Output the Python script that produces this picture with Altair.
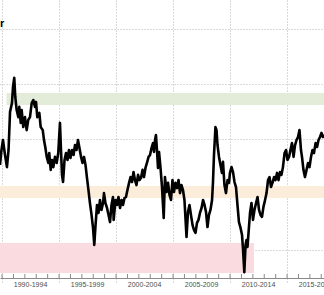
import altair as alt
import pandas as pd

# ---- data (arbitrary index units) ----
years = [1989.82, 1989.95, 1990.08, 1990.26, 1990.43, 1990.57, 1990.70, 1990.87, 1990.96, 1991.07,
         1991.16, 1991.28, 1991.43, 1991.51, 1991.64, 1991.72, 1991.86, 1992.01, 1992.16, 1992.30,
         1992.45, 1992.60, 1992.74, 1992.89, 1992.98, 1993.09, 1993.27, 1993.39, 1993.57, 1993.68,
         1993.79, 1993.92, 1994.06, 1994.14, 1994.27, 1994.38, 1994.50, 1994.64, 1994.79, 1994.93,
         1995.08, 1995.17, 1995.26, 1995.35, 1995.48, 1995.61, 1995.74, 1995.87, 1996.00, 1996.14,
         1996.27, 1996.40, 1996.53, 1996.66, 1996.79, 1996.93, 1997.06, 1997.19, 1997.32, 1997.45,
         1997.58, 1997.71, 1997.85, 1997.98, 1998.09, 1998.20, 1998.33, 1998.46, 1998.59, 1998.72,
         1998.86, 1998.94, 1999.07, 1999.21, 1999.34, 1999.47, 1999.60, 1999.73, 1999.79, 1999.95,
         2000.08, 2000.21, 2000.35, 2000.48, 2000.61, 2000.74, 2000.87, 2001.00, 2001.14, 2001.27,
         2001.40, 2001.53, 2001.66, 2001.79, 2001.93, 2002.06, 2002.19, 2002.32, 2002.45, 2002.58,
         2002.71, 2002.85, 2002.98, 2003.11, 2003.24, 2003.33, 2003.42, 2003.50, 2003.59, 2003.68,
         2003.77, 2003.90, 2004.03, 2004.18, 2004.29, 2004.43, 2004.56, 2004.69, 2004.82, 2004.95,
         2005.08, 2005.21, 2005.35, 2005.48, 2005.61, 2005.74, 2005.87, 2006.00, 2006.18, 2006.31,
         2006.44, 2006.57, 2006.71, 2006.84, 2006.97, 2007.10, 2007.23, 2007.36, 2007.50, 2007.63,
         2007.76, 2007.89, 2008.02, 2008.15, 2008.28, 2008.42, 2008.50, 2008.59, 2008.72, 2008.81,
         2008.90, 2009.03, 2009.16, 2009.29, 2009.38, 2009.51, 2009.64, 2009.78, 2009.91, 2009.99,
         2010.13, 2010.26, 2010.39, 2010.52, 2010.65, 2010.78, 2010.92, 2011.05, 2011.14, 2011.25,
         2011.36, 2011.44, 2011.53, 2011.62, 2011.75, 2011.88, 2012.01, 2012.14, 2012.28, 2012.41,
         2012.54, 2012.67, 2012.80, 2012.93, 2013.07, 2013.20, 2013.33, 2013.46, 2013.59, 2013.72,
         2013.86, 2013.99, 2014.12, 2014.25, 2014.38, 2014.51, 2014.64, 2014.78, 2014.91, 2015.04,
         2015.17, 2015.30, 2015.43, 2015.57, 2015.70, 2015.83, 2015.96, 2016.09, 2016.22, 2016.31,
         2016.44, 2016.57, 2016.71, 2016.84, 2016.97, 2017.10, 2017.23, 2017.36, 2017.50, 2017.63,
         2017.76, 2017.89, 2018.02, 2018.15, 2018.28]

values = [110.8, 116.2, 119.8, 114.4, 110.0, 116.2, 130.0, 133.2, 139.0, 142.3,
          135.4, 130.7, 128.1, 131.8, 126.0, 130.7, 124.5, 128.1, 123.4, 127.1,
          128.1, 133.2, 134.3, 131.8, 133.6, 128.1, 129.6, 124.5, 123.4, 119.8,
          117.3, 113.7, 111.5, 115.1, 109.0, 112.6, 110.0, 113.7, 111.5, 115.1,
          126.0, 116.2, 107.2, 104.6, 112.6, 115.1, 112.6, 116.2, 113.3, 116.2,
          114.4, 118.0, 116.2, 119.8, 116.9, 113.7, 111.5, 113.7, 110.8, 106.1,
          101.7, 97.0, 92.7, 88.0, 81.8, 89.0, 96.3, 93.4, 98.1, 94.5,
          97.0, 100.6, 97.0, 95.2, 92.7, 90.1, 96.3, 99.2, 90.9, 98.1,
          96.3, 99.2, 95.2, 98.1, 96.3, 98.8, 99.2, 101.7, 104.3, 106.4,
          104.6, 108.2, 105.3, 103.5, 107.2, 105.3, 106.1, 109.0, 106.4, 109.7,
          111.5, 113.7, 114.4, 116.9, 118.7, 115.5, 119.8, 121.6, 116.2, 109.7,
          115.5, 109.7, 102.8, 91.6, 106.4, 101.0, 104.3, 99.9, 98.1, 105.3,
          101.0, 104.3, 102.4, 105.3, 100.6, 103.5, 101.7, 98.1, 84.7, 93.8,
          96.3, 92.7, 89.0, 87.2, 86.2, 89.8, 90.9, 93.4, 95.2, 98.1,
          96.3, 93.8, 88.3, 92.7, 94.5, 98.1, 104.3, 114.4, 124.5, 123.4,
          118.0, 113.7, 110.8, 107.9, 111.9, 103.5, 100.6, 105.3, 104.3, 107.9,
          110.0, 108.2, 104.6, 102.8, 96.3, 90.1, 88.0, 85.4, 80.0, 72.0,
          81.8, 83.6, 81.1, 86.2, 93.4, 97.0, 90.9, 94.5, 97.0, 99.2,
          94.5, 92.7, 92.0, 95.6, 98.1, 100.6, 105.3, 106.4, 102.8, 104.3,
          106.4, 105.3, 107.9, 105.3, 108.2, 107.2, 110.0, 115.1, 116.2, 112.6,
          113.7, 116.2, 118.7, 113.7, 118.0, 119.8, 120.9, 123.4, 116.2, 113.7,
          109.0, 106.4, 109.0, 111.5, 110.0, 113.7, 116.2, 115.1, 118.7, 117.3,
          119.8, 120.9, 122.4, 120.9, 121.6]

# shaded zones
band_start = [1990.39, 1989.82, 1989.82]
band_end = [2018.30, 2018.30, 2012.10]
band_low = [132.5, 98.8, 71.7]
band_high = [136.8, 103.2, 82.5]
band_color = ["#e3ecd9", "#fcedda", "#fadbe0"]

# axis labels (5-year buckets)
period_labels = ["1990-1994", "1995-1999", "2000-2004", "2005-2009", "2010-2014", "2015-2019"]
period_centers = [1992.5, 1997.5, 2002.5, 2007.5, 2012.5, 2017.5]
major_years = [1990, 1995, 2000, 2005, 2010, 2015]
minor_years = list(range(1990, 2019))
grid_values = [80, 100, 120, 140, 160]

line_df = pd.DataFrame({"year": years, "value": values})
band_df = pd.DataFrame({"x1": band_start, "x2": band_end, "y1": band_low, "y2": band_high, "c": band_color})
lab_df = pd.DataFrame({"year": period_centers, "label": period_labels})
minor_df = pd.DataFrame({"year": minor_years})

W, H = 324, 278
xscale = alt.Scale(domain=[1989.82, 2018.24], nice=False, zero=False)
yscale = alt.Scale(domain=[69.86, 170.5], nice=False, zero=False)
xaxis = alt.Axis(values=major_years, grid=True, gridDash=[1, 2], gridColor="#b5b5b5",
                 labels=False, ticks=True, tickDash=[1, 2], tickColor="#b5b5b5", tickSize=4,
                 domain=True, domainColor="#8a8a8a", domainWidth=1, title=None)
yaxis = alt.Axis(values=grid_values, grid=True, gridDash=[1, 2], gridColor="#b5b5b5",
                 labels=False, ticks=False, domain=False, title=None)

bands = alt.Chart(band_df).mark_rect(clip=True).encode(
    x=alt.X("x1:Q", scale=xscale, axis=xaxis),
    x2="x2:Q",
    y=alt.Y("y1:Q", scale=yscale, axis=yaxis),
    y2="y2:Q",
    color=alt.Color("c:N", scale=None),
)

line = alt.Chart(line_df).mark_line(color="black", strokeWidth=2.6, clip=True, strokeJoin="round").encode(
    x=alt.X("year:Q", scale=xscale, axis=xaxis),
    y=alt.Y("value:Q", scale=yscale, axis=yaxis),
)

minor = alt.Chart(minor_df).mark_rule(color="#8a8a8a", strokeWidth=1).encode(
    x=alt.X("year:Q", scale=xscale, axis=xaxis),
    y=alt.value(274),
    y2=alt.value(278),
)

labels = alt.Chart(lab_df).mark_text(fontSize=7, font="Liberation Sans", color="#4d4d4d",
                                     baseline="middle", align="center").encode(
    x=alt.X("year:Q", scale=xscale, axis=xaxis),
    y=alt.value(285),
    text="label:N",
)

title = alt.Chart(pd.DataFrame({"t": ["r"]})).mark_text(
    fontSize=11, fontWeight="bold", font="Liberation Sans", color="black",
    align="left", baseline="alphabetic").encode(
    x=alt.value(0), y=alt.value(27), text="t:N")

chart = alt.layer(bands, line, minor, labels, title).properties(
    width=W, height=H,
    padding={"left": 0, "top": 0, "right": 0, "bottom": 17},
    autosize=alt.AutoSizeParams(type="none"),
    background="white",
).configure_view(stroke=None)

chart.save("out.html", embed_options={"renderer": "svg", "actions": False})
